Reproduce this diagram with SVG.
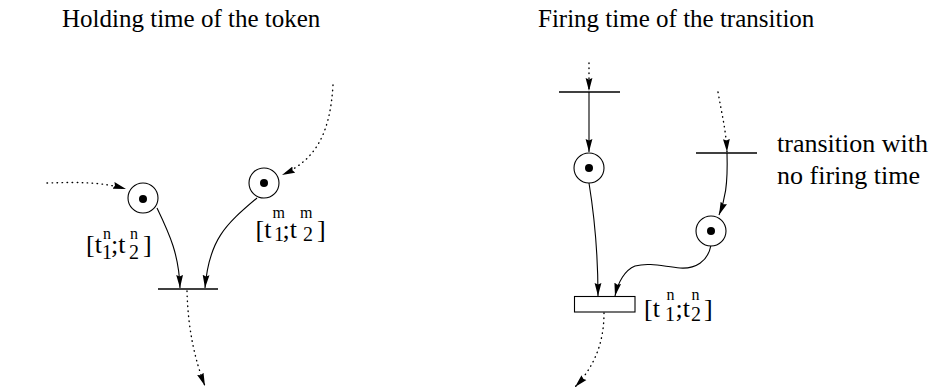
<svg xmlns="http://www.w3.org/2000/svg" width="938" height="391" viewBox="0 0 938 391">
<style>
  .t { font-family: "Liberation Serif", "Times New Roman", serif; fill: #000; }
  .title { font-size: 25px; }
  .big { font-size: 26px; }
  .sup { font-size: 16px; }
  .sub { font-size: 20px; }
  .place { fill: #fff; stroke: #000; stroke-width: 1.1; }
  .tok { fill: #000; }
  .bar { stroke: #000; stroke-width: 1.7; fill: none; }
  .solid { fill: none; stroke: #000; stroke-width: 1.1; marker-end: url(#ah); }
  .dot { fill: none; stroke: #000; stroke-width: 1.4; stroke-dasharray: 0.5 4.5; stroke-linecap: round; marker-end: url(#ah); }
</style>
<defs>
  <marker id="ah" markerUnits="userSpaceOnUse" markerWidth="14" markerHeight="8" viewBox="0 0 14 8" refX="13" refY="4" orient="auto">
    <path d="M0,0.6 L13,4 L0,7.4 L1.5,4 z" fill="#000"/>
  </marker>
</defs>
<rect width="938" height="391" fill="#fff"/>

<text class="t title" x="62" y="27">Holding time of the token</text>
<text class="t title" x="538" y="27">Firing time of the transition</text>

<g id="connectors">
  <path class="dot" d="M47,183 C80,182 102,182 126,189"/>
  <path class="dot" d="M333,85 C330,135 315,160 282,175"/>
  <path class="solid" d="M157,208 C170,235 179,255 180,288"/>
  <path class="solid" d="M257,198 C225,225 209,240 205,288"/>
  <path class="dot" d="M187,291 C188,330 195,360 205,386"/>

  <path class="dot" d="M589,63 L589,91"/>
  <path class="solid" d="M589,92 L589,152"/>
  <path class="solid" d="M589,183 C595,220 598,250 598,296"/>
  <path class="dot" d="M718,92 C722,115 726,130 727,152"/>
  <path class="solid" d="M727,153 C728,185 725,200 719,215"/>
  <path class="solid" d="M711,245 C708,262 695,269 680,268 C665,267 650,262 635,266 C625,270 618,282 615,296"/>
  <path class="dot" d="M604,313 C604,340 596,365 575,387"/>
</g>

<g id="place-left-1">
  <circle class="place" cx="143" cy="198" r="15"/>
  <circle class="tok" cx="143" cy="199" r="4"/>
</g>
<g id="place-left-2">
  <circle class="place" cx="264" cy="183" r="15"/>
  <circle class="tok" cx="264" cy="183" r="4"/>
</g>
<g id="transition-left">
  <line class="bar" x1="158" y1="289" x2="218" y2="289"/>
</g>
<g id="label-left-1">
  <text class="t"><tspan class="big" x="86" y="253">[t</tspan><tspan class="sup" x="103" y="238.5">n</tspan><tspan class="sub" x="102" y="259">1</tspan><tspan class="big" x="111" y="253">;t</tspan><tspan class="sup" x="130" y="238.5">n</tspan><tspan class="sub" x="129" y="259">2</tspan><tspan class="big" x="143" y="253">]</tspan></text>
</g>
<g id="label-left-2">
  <text class="t"><tspan class="big" x="255.5" y="237.5">[t</tspan><tspan class="sup" x="272.5" y="218">m</tspan><tspan class="sub" x="274" y="241">1</tspan><tspan class="big" x="282.5" y="237.5">;t</tspan><tspan class="sup" x="300" y="218">m</tspan><tspan class="sub" x="303" y="241">2</tspan><tspan class="big" x="317" y="237.5">]</tspan></text>
</g>

<g id="transition-top">
  <line class="bar" x1="559" y1="92" x2="620" y2="92"/>
</g>
<g id="place-right-1">
  <circle class="place" cx="589" cy="168" r="15"/>
  <circle class="tok" cx="589" cy="168" r="4"/>
</g>
<g id="transition-nofire">
  <line class="bar" x1="696" y1="153" x2="757" y2="153"/>
</g>
<g id="place-right-2">
  <circle class="place" cx="711" cy="231" r="15"/>
  <circle class="tok" cx="711" cy="231" r="4"/>
</g>
<g id="transition-timed">
  <rect x="574.5" y="296.5" width="60.5" height="15.5" fill="#fff" stroke="#000" stroke-width="1.1"/>
</g>
<g id="label-right">
  <text class="t"><tspan class="big" x="644" y="317">[t</tspan><tspan class="sup" x="666.5" y="299.5">n</tspan><tspan class="sub" x="665" y="320.5">1</tspan><tspan class="big" x="675.5" y="317">;t</tspan><tspan class="sup" x="691.5" y="299.5">n</tspan><tspan class="sub" x="691" y="320.5">2</tspan><tspan class="big" x="704" y="317">]</tspan></text>
</g>
<g id="note">
  <text class="t big" x="777" y="152">transition with</text>
  <text class="t big" x="777" y="184">no firing time</text>
</g>
</svg>
